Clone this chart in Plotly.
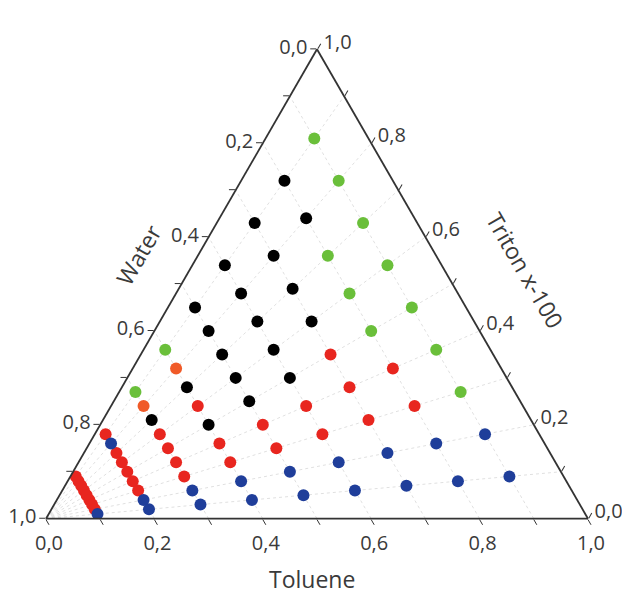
import plotly.graph_objects as go

# ---- data (fractions of Water / Triton x-100 / Toluene) ----
green_water   = [0.1, 0.1, 0.1, 0.1, 0.1, 0.1, 0.1, 0.2, 0.2, 0.2, 0.6, 0.7]
green_triton  = [0.81, 0.72, 0.63, 0.54, 0.45, 0.36, 0.27, 0.56, 0.48, 0.40, 0.36, 0.27]
green_toluene = [0.09, 0.18, 0.27, 0.36, 0.45, 0.54, 0.63, 0.24, 0.32, 0.40, 0.04, 0.03]

black_water   = [0.2, 0.2, 0.3, 0.3, 0.3, 0.3, 0.4, 0.4, 0.4, 0.4, 0.4,
                 0.5, 0.5, 0.5, 0.5, 0.5, 0.6, 0.6, 0.7]
black_triton  = [0.72, 0.64, 0.63, 0.56, 0.49, 0.42, 0.54, 0.48, 0.42, 0.36, 0.30,
                 0.45, 0.40, 0.35, 0.30, 0.25, 0.28, 0.20, 0.21]
black_toluene = [0.08, 0.16, 0.07, 0.14, 0.21, 0.28, 0.06, 0.12, 0.18, 0.24, 0.30,
                 0.05, 0.10, 0.15, 0.20, 0.25, 0.12, 0.20, 0.09]

orange_water   = [0.6, 0.7]
orange_triton  = [0.32, 0.24]
orange_toluene = [0.08, 0.06]

red_water   = [0.2, 0.2, 0.3, 0.3, 0.3, 0.4, 0.4, 0.5, 0.5, 0.6, 0.6, 0.6,
               0.7, 0.7, 0.7, 0.7, 0.8, 0.8, 0.8, 0.8, 0.8, 0.8,
               0.9, 0.9, 0.9, 0.9, 0.9, 0.9, 0.9, 0.9]
red_triton  = [0.32, 0.24, 0.35, 0.28, 0.21, 0.24, 0.18, 0.20, 0.15, 0.24, 0.16, 0.12,
               0.18, 0.15, 0.12, 0.09, 0.18, 0.14, 0.12, 0.10, 0.08, 0.06,
               0.09, 0.08, 0.07, 0.06, 0.05, 0.04, 0.03, 0.02]
red_toluene = [0.48, 0.56, 0.35, 0.42, 0.49, 0.36, 0.42, 0.30, 0.35, 0.16, 0.24, 0.28,
               0.12, 0.15, 0.18, 0.21, 0.02, 0.06, 0.08, 0.10, 0.12, 0.14,
               0.01, 0.02, 0.03, 0.04, 0.05, 0.06, 0.07, 0.08]

blue_water   = [0.1, 0.1, 0.2, 0.2, 0.3, 0.3, 0.4, 0.4, 0.5, 0.5, 0.6, 0.6,
                0.7, 0.7, 0.8, 0.8, 0.8, 0.9]
blue_triton  = [0.18, 0.09, 0.16, 0.08, 0.14, 0.07, 0.12, 0.06, 0.10, 0.05, 0.08, 0.04,
                0.06, 0.03, 0.16, 0.04, 0.02, 0.01]
blue_toluene = [0.72, 0.81, 0.64, 0.72, 0.56, 0.63, 0.48, 0.54, 0.40, 0.45, 0.32, 0.36,
                0.24, 0.27, 0.04, 0.16, 0.18, 0.09]

# Triton : Toluene ratio guide lines (dotted, from the Water corner)
ratio_lines = [0.1, 0.2, 0.3, 0.4, 0.5, 0.6, 0.7, 0.8, 0.9]

tick_vals = [0.0, 0.1, 0.2, 0.3, 0.4, 0.5, 0.6, 0.7, 0.8, 0.9, 1.0]
# label shown at each tick (complementary composition read along each side)
tick_text = ["1,0", "", "0,8", "", "0,6", "", "0,4", "", "0,2", "", "0,0"]

FONT = "Open Sans"
TXT = "#3a3a3a"

fig = go.Figure()

for r in ratio_lines:
    fig.add_trace(go.Scatterternary(
        a=[0, r], b=[1, 0], c=[0, 1 - r], mode="lines",
        line=dict(color="#e0e0e0", width=1, dash="dot"),
        hoverinfo="skip", showlegend=False))

series = [
    ("green", green_triton, green_water, green_toluene, "#6abf3a"),
    ("black", black_triton, black_water, black_toluene, "#000000"),
    ("orange", orange_triton, orange_water, orange_toluene, "#f05a28"),
    ("red", red_triton, red_water, red_toluene, "#e8261f"),
    ("blue", blue_triton, blue_water, blue_toluene, "#1f3e9a"),
]
for name, a, b, c, col in series:
    fig.add_trace(go.Scatterternary(
        a=a, b=b, c=c, mode="markers", name=name,
        marker=dict(size=12, color=col, line=dict(width=0)),
        showlegend=False))

axis_common = dict(
    tickmode="array", tickvals=tick_vals, ticktext=tick_text,
    ticks="outside", ticklen=6, tickwidth=1.3, tickcolor="#333333",
    showline=True, linecolor="#333333", linewidth=1.8,
    tickfont=dict(family=FONT, size=20, color=TXT),
    min=0, title=dict(text=""),
)

fig.update_layout(
    width=630, height=595,
    margin=dict(l=38, r=50, t=40, b=83),
    paper_bgcolor="white",
    font=dict(family=FONT, color=TXT),
    ternary=dict(
        sum=1,
        bgcolor="white",
        domain=dict(x=[0, 1], y=[0, 1]),
        aaxis=dict(**axis_common, showgrid=False),
        baxis=dict(**axis_common, showgrid=True, gridcolor="#e0e0e0",
                   gridwidth=1, griddash="dot"),
        caxis=dict(**axis_common, showgrid=False),
    ),
    annotations=[
        dict(text="Water", x=0.170, y=0.562, xref="paper", yref="paper",
             showarrow=False, textangle=-60, xanchor="center", yanchor="middle",
             font=dict(family=FONT, size=23, color=TXT)),
        dict(text="Triton x-100", x=0.884, y=0.530, xref="paper", yref="paper",
             showarrow=False, textangle=60, xanchor="center", yanchor="middle",
             font=dict(family=FONT, size=23, color=TXT)),
        dict(text="Toluene", x=0.490, y=-0.163, xref="paper", yref="paper",
             showarrow=False, xanchor="center", yanchor="bottom",
             font=dict(family=FONT, size=23, color=TXT)),
    ],
)

fig.write_html("out.html")
